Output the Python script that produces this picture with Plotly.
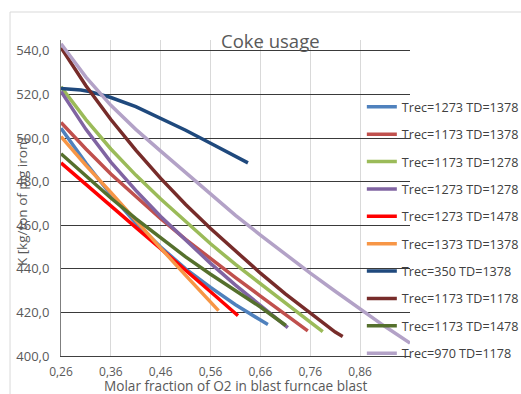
import plotly.graph_objects as go

# Molar fraction of O2 in the blast (x) and coke rate K in kg per ton of pig iron (y)
x_1273_1378 = [0.26, 0.31, 0.36, 0.41, 0.46, 0.51, 0.56, 0.61, 0.66, 0.675]
k_1273_1378 = [504.5, 488.5, 474.0, 461.0, 450.0, 440.0, 431.5, 423.5, 416.5, 414.5]

x_1173_1378 = [0.26, 0.31, 0.36, 0.41, 0.46, 0.51, 0.56, 0.61, 0.66, 0.71, 0.755]
k_1173_1378 = [507.2, 495.0, 483.5, 473.0, 463.0, 453.5, 445.0, 436.0, 427.5, 419.2, 411.5]

x_1173_1278 = [0.26, 0.31, 0.36, 0.41, 0.46, 0.51, 0.56, 0.61, 0.66, 0.71, 0.76, 0.785]
k_1173_1278 = [523.5, 508.5, 495.0, 483.0, 472.0, 461.5, 451.5, 442.0, 433.0, 424.2, 415.5, 411.2]

x_1273_1278 = [0.26, 0.31, 0.36, 0.41, 0.46, 0.51, 0.56, 0.61, 0.66, 0.715]
k_1273_1278 = [521.4, 504.0, 489.0, 476.0, 464.0, 453.0, 442.5, 432.5, 423.0, 413.0]

x_1273_1478 = [0.26, 0.31, 0.36, 0.41, 0.46, 0.51, 0.56, 0.61, 0.615]
k_1273_1478 = [488.6, 478.6, 468.8, 459.0, 449.2, 439.5, 429.5, 419.5, 418.5]

x_1373_1378 = [0.26, 0.31, 0.36, 0.41, 0.46, 0.51, 0.56, 0.576]
k_1373_1378 = [500.7, 487.5, 475.0, 462.0, 449.5, 437.0, 424.5, 420.8]

x_350_1378 = [0.26, 0.28, 0.30, 0.32, 0.34, 0.36, 0.41, 0.46, 0.51, 0.56, 0.60, 0.635]
k_350_1378 = [522.8, 522.6, 522.1, 521.2, 520.0, 518.6, 514.4, 509.2, 503.6, 497.6, 492.8, 488.6]

x_1173_1178 = [0.26, 0.31, 0.36, 0.41, 0.46, 0.51, 0.56, 0.61, 0.66, 0.71, 0.76, 0.81, 0.825]
k_1173_1178 = [541.5, 524.0, 508.5, 494.5, 481.5, 469.5, 458.5, 448.0, 438.0, 428.5, 419.5, 411.0, 409.0]

x_1173_1478 = [0.26, 0.31, 0.36, 0.41, 0.46, 0.51, 0.56, 0.61, 0.66, 0.711]
k_1173_1478 = [492.8, 482.5, 472.5, 463.0, 454.0, 445.5, 437.5, 430.0, 422.5, 414.0]

x_970_1178 = [0.26, 0.31, 0.36, 0.41, 0.46, 0.51, 0.56, 0.61, 0.66, 0.71, 0.76, 0.81, 0.86, 0.91, 0.96]
k_970_1178 = [543.3, 528.0, 515.0, 504.0, 494.0, 484.0, 474.0, 464.5, 455.5, 446.5, 438.0, 429.7, 421.5, 413.5, 405.9]

series_names = [
    "Trec=1273 TD=1378", "Trec=1173 TD=1378", "Trec=1173 TD=1278",
    "Trec=1273 TD=1278", "Trec=1273 TD=1478", "Trec=1373 TD=1378",
    "Trec=350 TD=1378", "Trec=1173 TD=1178", "Trec=1173 TD=1478",
    "Trec=970 TD=1178",
]
series_x = [x_1273_1378, x_1173_1378, x_1173_1278, x_1273_1278, x_1273_1478,
            x_1373_1378, x_350_1378, x_1173_1178, x_1173_1478, x_970_1178]
series_k = [k_1273_1378, k_1173_1378, k_1173_1278, k_1273_1278, k_1273_1478,
            k_1373_1378, k_350_1378, k_1173_1178, k_1173_1478, k_970_1178]
series_colors = ["#4F81BD", "#C0504D", "#9BBB59", "#8064A2", "#FF0000",
                 "#F79646", "#1F497D", "#772C2A", "#55702D", "#B3A2C7"]

x_ticks = [0.26, 0.36, 0.46, 0.56, 0.66, 0.76, 0.86, 0.96]
x_tick_text = ["0,26", "0,36", "0,46", "0,56", "0,66", "0,76", "0,86", ""]
y_ticks = [400, 420, 440, 460, 480, 500, 520, 540]

fig = go.Figure()
for i, (name, xs, ks, col) in enumerate(zip(series_names, series_x, series_k, series_colors)):
    fig.add_trace(go.Scatter(
        x=xs, y=ks, name=name, mode="lines",
        line=dict(color=col, width=3.5),
        legendgroup=f"g{i}",
    ))

fig.update_layout(
    width=521, height=394,
    margin=dict(l=61, r=111, t=40, b=38, autoexpand=False),
    paper_bgcolor="white", plot_bgcolor="white",
    separators=",.",
    font=dict(family="Open Sans, sans-serif", color="#595959"),
    showlegend=True,
    legend=dict(
        x=0.862, xanchor="left", y=0.835, yanchor="top",
        bgcolor="rgba(0,0,0,0)", borderwidth=0,
        tracegroupgap=8, traceorder="grouped",
        font=dict(size=12.6, color="#404040"),
        itemwidth=30,
    ),
    xaxis=dict(
        range=[0.26, 0.96], tickvals=x_ticks, ticktext=x_tick_text,
        showgrid=True, gridcolor="#d9d9d9", gridwidth=1,
        showline=True, linecolor="#404040", linewidth=1,
        zeroline=False, ticks="", ticklabelstandoff=5,
        tickfont=dict(size=12, color="#595959"),
    ),
    yaxis=dict(
        range=[400, 545], tickvals=y_ticks, tickformat=".1f",
        showgrid=True, gridcolor="#3a3a3a", gridwidth=1,
        showline=True, linecolor="#7f7f7f", linewidth=1,
        zeroline=False, ticks="", ticklabelstandoff=8,
        tickfont=dict(size=13, color="#595959"),
    ),
    annotations=[
        dict(text="Coke usage", x=0.599, y=1.0, xref="paper", yref="paper",
             xanchor="center", yanchor="middle", showarrow=False,
             font=dict(size=18.5, color="#595959")),
        dict(text="Molar fraction of O2 in blast furncae blast", x=0.4986, y=-0.094,
             xref="paper", yref="paper", xanchor="center", yanchor="middle",
             showarrow=False, font=dict(size=13.6, color="#595959")),
        dict(text="K [kg/ton of pig iron]", x=-0.1117, y=0.487,
             xref="paper", yref="paper", xanchor="center", yanchor="middle",
             textangle=-90, showarrow=False, font=dict(size=13.5, color="#595959")),
    ],
    shapes=[
        dict(type="rect", xref="paper", yref="paper",
             x0=-0.146, y0=-0.14, x1=1.33, y1=1.0886,
             line=dict(color="#d9d9d9", width=1), fillcolor="rgba(0,0,0,0)",
             layer="below"),
    ],
)

fig.write_html("out.html")
